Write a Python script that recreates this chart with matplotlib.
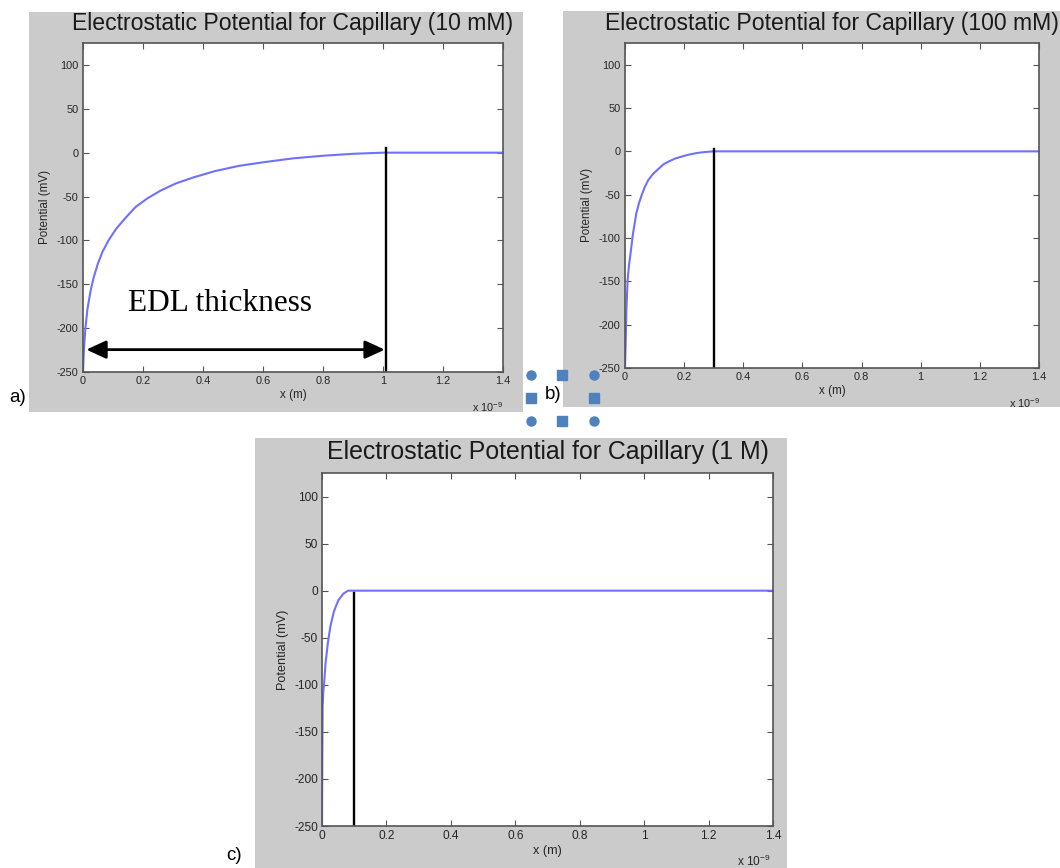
import numpy as np
import matplotlib.pyplot as plt
from matplotlib.patches import Rectangle
from matplotlib.lines import Line2D

W, H = 1060, 868

# potential profiles (x in units of 1e-9 m, potential in mV)
x_10mM = [0, 0.003, 0.008, 0.015, 0.025, 0.035, 0.05, 0.065, 0.085, 0.11, 0.14, 0.175, 0.215,
          0.26, 0.31, 0.37, 0.44, 0.52, 0.6, 0.7, 0.8, 0.9, 1.0, 1.4]
phi_10mM = [-250, -225, -200, -178, -158, -143, -126, -113, -100, -87, -75, -62, -52,
            -43, -35, -28, -21, -15, -11, -6.5, -3.5, -1.3, 0, 0]
x_100mM = [0, 0.002, 0.005, 0.009, 0.014, 0.019, 0.027, 0.038, 0.047, 0.056, 0.067, 0.079,
           0.095, 0.114, 0.13, 0.149, 0.17, 0.196, 0.22, 0.242, 0.265, 0.285, 0.3, 1.4]
phi_100mM = [-250, -225, -180, -148, -130, -117, -95, -72, -60, -51, -41, -33,
             -26, -20, -15, -11.5, -8.3, -5.6, -3.5, -2.0, -1.0, -0.4, 0, 0]
x_1M = [0, 0.001, 0.002, 0.004, 0.0067, 0.011, 0.018, 0.026, 0.037, 0.051, 0.067, 0.081, 0.098, 1.4]
phi_1M = [-250, -180, -123, -108, -98, -77, -56, -38, -22, -10, -3, 0, 0, 0]

titles = ['Electrostatic Potential for Capillary (10 mM)',
          'Electrostatic Potential for Capillary (100 mM)',
          'Electrostatic Potential for Capillary (1 M)']
edl_x = [1.01, 0.30, 0.10]      # position of the black marker line
edl_top = [5, 2.5, -3]
arrow_x = [0.011, 1.006]
arrow_y = -224.5
xticks = [0, 0.2, 0.4, 0.6, 0.8, 1.0, 1.2, 1.4]
xtick_labels = ['0', '0.2', '0.4', '0.6', '0.8', '1', '1.2', '1.4']
yticks = [-250, -200, -150, -100, -50, 0, 50, 100]

plt.rcParams['font.family'] = ['Liberation Sans', 'DejaVu Sans']
plt.rcParams['axes.unicode_minus'] = False
plt.rcParams['mathtext.fontset'] = 'custom'
plt.rcParams['mathtext.rm'] = 'Liberation Sans'

fig = plt.figure(figsize=(W / 100, H / 100), dpi=100)
fig.patch.set_facecolor('white')


def box(x0, y0, x1, y1):
    return [x0 / W, 1 - y1 / H, (x1 - x0) / W, (y1 - y0) / H]


# gray window, axes box, font scale, x10^-9 position
layout = [
    ((29, 12, 523, 412), (83, 43, 503, 372), 1.0, (503, 407)),
    ((563, 11, 1060, 407), (625, 43, 1039, 368), 1.0, (1040, 403)),
    ((255, 438, 787, 868), (322, 473, 773, 826), 1.08, (771, 861)),
]
curves = [(x_10mM, phi_10mM), (x_100mM, phi_100mM), (x_1M, phi_1M)]

axes = []
for i, (gray, abox, s, mult) in enumerate(layout):
    g = box(*gray)
    fig.add_artist(Rectangle((g[0], g[1]), g[2], g[3], transform=fig.transFigure,
                             facecolor='#cbcbcb', edgecolor='none', zorder=0))
    ax = fig.add_axes(box(*abox))
    ax.set_facecolor('white')
    x, phi = curves[i]
    ax.plot(x, phi, color='#7070ff', lw=1.5)
    ax.plot([edl_x[i], edl_x[i]], [-250, edl_top[i]], color='black', lw=1.7)
    ax.set_xlim(0, 1.4)
    ax.set_ylim(-250, 125)
    ax.set_xticks(xticks)
    ax.set_xticklabels(xtick_labels)
    ax.set_yticks(yticks)
    ax.tick_params(direction='in', top=True, right=True, length=4, width=0.8,
                   color='#555555', labelcolor='#262626', labelsize=7.9 * s, pad=3)
    for sp in ax.spines.values():
        sp.set_color('#555555')
        sp.set_linewidth(1.2)
    ax.set_title(titles[i], fontsize=16.6 * s, color='#1a1a1a', pad=9.5 * s)
    ax.set_xlabel('x (m)', fontsize=8.4 * s, color='#262626', labelpad=2)
    ax.set_ylabel('Potential (mV)', fontsize=8.4 * s, color='#262626', labelpad=4)
    fig.text(mult[0] / W, 1 - mult[1] / H, r'x 10$^{\mathrm{-9}}$', ha='right', va='center',
             fontsize=7.9 * s, color='#262626')
    axes.append(ax)

# EDL thickness annotation on the 10 mM panel
ax = axes[0]
ax.annotate('', xy=(arrow_x[0], arrow_y), xytext=(arrow_x[1], arrow_y),
            arrowprops=dict(arrowstyle='<|-|>,head_length=1.2,head_width=0.55',
                            mutation_scale=10, lw=2, color='black',
                            shrinkA=0, shrinkB=0))
ax.text(0.457, -172, 'EDL thickness', fontsize=22.5, family='Liberation Serif',
        ha='center', va='center', color='black')

# panel letters
fig.text(18 / W, 1 - 397 / H, 'a)', fontsize=13.5, ha='center', va='center')
fig.text(553 / W, 1 - 395 / H, 'b)', fontsize=13.5, ha='center', va='center')
fig.text(234 / W, 1 - 856 / H, 'c)', fontsize=13.5, ha='center', va='center')

# selection handles around "b)"
hx = [531, 562, 594]
hy = [375, 398, 421]
for r, yy in enumerate(hy):
    for c, xx in enumerate(hx):
        if r == 1 and c == 1:
            continue
        mk = 'o' if (r != 1 and c != 1) else 's'
        fig.add_artist(Line2D([xx / W], [1 - yy / H], transform=fig.transFigure,
                              marker=mk, markersize=6.5, color='#4f81bd',
                              markeredgecolor='#4f81bd', linestyle='none', zorder=5))

fig.savefig('out.png', dpi=100)
